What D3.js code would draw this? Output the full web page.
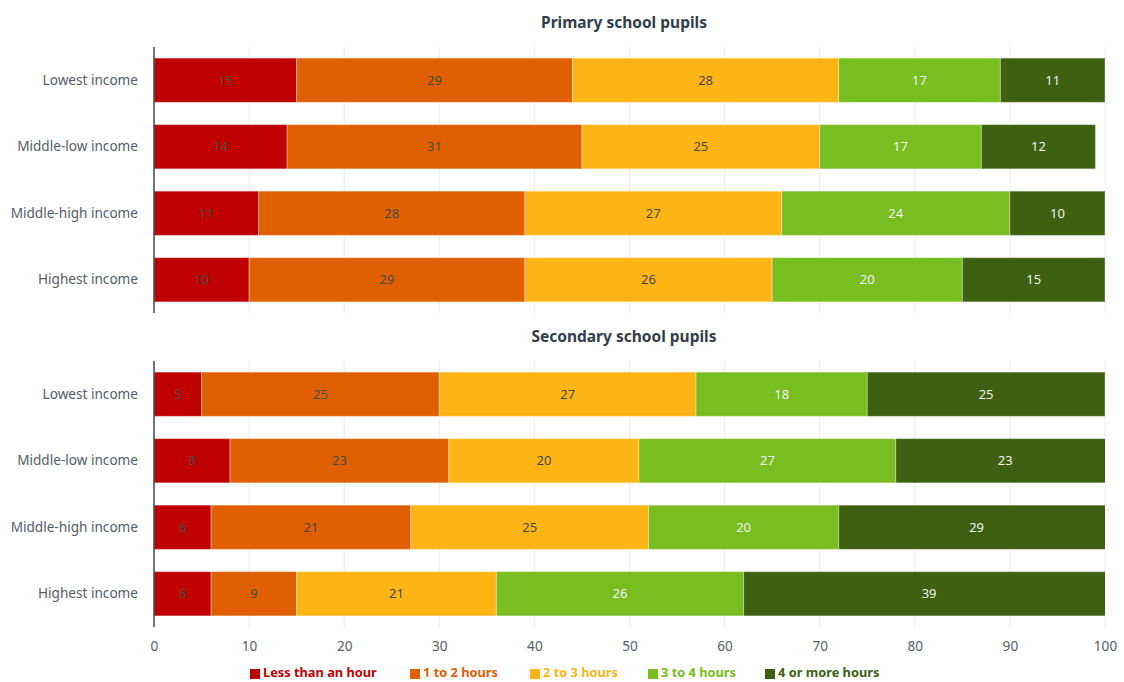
<!DOCTYPE html>
<html>
<head>
<meta charset="utf-8">
<script src="https://cdn.jsdelivr.net/npm/d3@7"></script>
<style>
  body { margin: 0; background: #fff; font-family: "Noto Sans", sans-serif; overflow: hidden; }
  svg { display: block; }
</style>
</head>
<body>
<div id="chart"></div>
<script>
const incomes = ['Lowest income', 'Middle-low income', 'Middle-high income', 'Highest income'];
const bands = ['Less than an hour', '1 to 2 hours', '2 to 3 hours', '3 to 4 hours', '4 or more hours'];
const colours = ['#c00000', '#e06000', '#fdb515', '#78be20', '#3d6011'];
const labelColours = ['#4a4a4a', '#4a4a4a', '#4a4a4a', '#f2f2f2', '#f2f2f2'];
const ticks = [0, 10, 20, 30, 40, 50, 60, 70, 80, 90, 100];

const primary = [
  [15, 29, 28, 17, 11],
  [14, 31, 25, 17, 12],
  [11, 28, 27, 24, 10],
  [10, 29, 26, 20, 15]
];
const secondary = [
  [5, 25, 27, 18, 25],
  [8, 23, 20, 27, 23],
  [6, 21, 25, 20, 29],
  [6, 9, 21, 26, 39]
];
const panels = [
  { title: 'Primary school pupils', rows: primary, top: 47, bottom: 313, titleY: 28 },
  { title: 'Secondary school pupils', rows: secondary, top: 361, bottom: 627, titleY: 342 }
];

const font = '"Noto Sans", sans-serif';
const width = 1124;
const height = 682;
const left = 154;
const right = 1105;

const svg = d3.select('#chart')
  .append('svg')
    .attr('width', width)
    .attr('height', height)
    .attr('font-family', font);

svg.append('defs').append('clipPath')
  .attr('id', 'clip')
  .append('rect')
    .attr('x', left)
    .attr('y', 0)
    .attr('width', right - left)
    .attr('height', height);

const x = d3.scaleLinear().domain([0, 100]).range([left, right]);

panels.forEach(p => {
  const y = d3.scaleBand()
    .domain(incomes)
    .range([p.top, p.bottom])
    .paddingInner(0.335)
    .paddingOuter(0.167);

  const g = svg.append('g');

  // grid
  g.selectAll('line.grid')
    .data(ticks)
    .enter()
      .append('line')
        .attr('x1', d => x(d))
        .attr('x2', d => x(d))
        .attr('y1', p.top)
        .attr('y2', p.bottom)
        .attr('stroke', '#ececec')
        .attr('stroke-width', 1);

  g.append('text')
    .attr('x', 624)
    .attr('y', p.titleY)
    .attr('text-anchor', 'middle')
    .attr('font-size', 15.5)
    .attr('font-weight', 'bold')
    .attr('fill', '#333d47')
    .text(p.title);

  const rows = p.rows.map((vals, i) => {
    let acc = 0;
    return vals.map((v, k) => {
      const seg = { income: incomes[i], k, v, x0: acc, x1: acc + v };
      acc += v;
      return seg;
    });
  });

  const row = g.selectAll('g.row')
    .data(rows)
    .enter()
      .append('g');

  row.selectAll('rect')
    .data(d => d)
    .enter()
      .append('rect')
        .attr('clip-path', 'url(#clip)')
        .attr('x', d => x(d.x0))
        .attr('y', d => y(d.income))
        .attr('width', d => x(d.x1) - x(d.x0))
        .attr('height', y.bandwidth())
        .attr('fill', d => colours[d.k])
        .attr('stroke', 'rgba(255,255,255,0.35)')
        .attr('stroke-width', 1);

  row.selectAll('text')
    .data(d => d)
    .enter()
      .append('text')
        .attr('x', d => x((d.x0 + d.x1) / 2))
        .attr('y', d => y(d.income) + y.bandwidth() / 2)
        .attr('dy', '0.35em')
        .attr('text-anchor', 'middle')
        .attr('font-size', 13)
        .attr('fill', d => labelColours[d.k])
        .text(d => d.v);

  const yAxis = g.append('g')
    .attr('transform', `translate(${left},0)`)
    .call(d3.axisLeft(y).tickSize(0).tickPadding(16));
  yAxis.select('.domain')
    .attr('stroke', '#3d4650')
    .attr('stroke-width', 1.5)
    .attr('d', `M0,${p.top}V${p.bottom}`);
  yAxis.selectAll('text')
    .attr('font-size', 13.6)
    .attr('font-family', font)
    .attr('fill', '#555d66');
});

const xAxis = svg.append('g')
  .attr('transform', 'translate(0,627)')
  .call(d3.axisBottom(x).tickValues(ticks).tickSize(0).tickPadding(14));
xAxis.select('.domain').remove();
xAxis.selectAll('text')
  .attr('font-size', 13.6)
  .attr('font-family', font)
  .attr('fill', '#555d66');

// legend
const legendX = [250, 410, 530, 648, 765];
const legend = svg.append('g')
  .selectAll('g')
  .data(bands)
  .enter()
    .append('g')
      .attr('transform', (d, i) => `translate(${legendX[i]},673)`);

legend.append('rect')
  .attr('x', 0)
  .attr('y', -4)
  .attr('width', 10)
  .attr('height', 10)
  .attr('fill', (d, i) => colours[i]);

legend.append('text')
  .attr('x', 13)
  .attr('y', 0)
  .attr('dy', '0.35em')
  .attr('font-size', 12.8)
  .attr('font-weight', 'bold')
  .attr('fill', (d, i) => colours[i])
  .text(d => d);
</script>
</body>
</html>
